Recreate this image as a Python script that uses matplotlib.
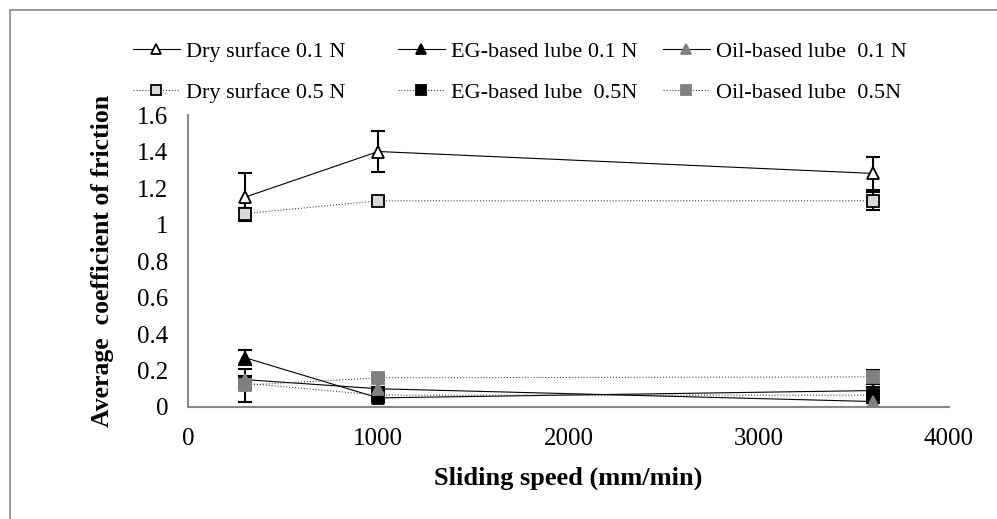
import matplotlib.pyplot as plt
from matplotlib.patches import Rectangle

# sliding speeds (mm/min)
speed = [300, 1000, 3600]

# average coefficient of friction and error bars
dry_01 = [1.15, 1.40, 1.28]
dry_01_err = [0.13, 0.11, 0.09]
dry_05 = [1.06, 1.13, 1.13]
dry_05_err = [0.03, 0.02, 0.05]
eg_01 = [0.27, 0.05, 0.09]
eg_01_err = [0.04, 0.02, 0.02]
eg_05 = [0.13, 0.065, 0.065]
eg_05_err = [0.02, 0.02, 0.02]
oil_01 = [0.15, 0.10, 0.03]
oil_01_err = [0.02, 0.01, 0.01]
oil_05 = [0.12, 0.16, 0.165]
oil_05_err = [0.09, 0.01, 0.04]

labels = ['Dry surface 0.1 N', 'Dry surface 0.5 N', 'EG-based lube 0.1 N',
          'EG-based lube  0.5N', 'Oil-based lube  0.1 N', 'Oil-based lube  0.5N']

plt.rcParams['font.family'] = ['Liberation Serif', 'DejaVu Serif']

fig = plt.figure(figsize=(9.97, 5.19), dpi=100)
fig.patches.append(Rectangle((10 / 997, -0.1), 1.1, 1 - 10 / 519 + 0.1,
                             transform=fig.transFigure, fill=False,
                             edgecolor='#888888', linewidth=1.2))
ax = fig.add_axes([0.1886, 0.2158, 0.7632, 0.5626])

grey = '#808080'
series = [
    (dry_01, dry_01_err, '^', 'white', 'black', '-'),
    (dry_05, dry_05_err, 's', '#d9d9d9', 'black', ':'),
    (eg_01, eg_01_err, '^', 'black', 'black', '-'),
    (eg_05, eg_05_err, 's', 'black', 'black', ':'),
    (oil_01, oil_01_err, '^', grey, grey, '-'),
    (oil_05, oil_05_err, 's', grey, grey, ':'),
]
handles = []
for (y, err, m, fc, ec, ls), lab in zip(series, labels):
    ax.errorbar(speed, y, yerr=err, fmt='none', ecolor='black',
                elinewidth=1.5, capsize=5, capthick=1.5, zorder=2)
    h, = ax.plot(speed, y, linestyle=ls, color='black' if ls == '-' else '#444444',
                 linewidth=0.8, marker=m, markersize=8, markerfacecolor=fc,
                 markeredgecolor=ec, markeredgewidth=1.3, label=lab, zorder=3)
    handles.append(h)

ax.set_xlim(0, 4000)
ax.set_ylim(0, 1.6)
ax.set_xticks([0, 1000, 2000, 3000, 4000])
ax.set_yticks([0, 0.2, 0.4, 0.6, 0.8, 1.0, 1.2, 1.4, 1.6])
ax.set_yticklabels(['0', '0.2', '0.4', '0.6', '0.8', '1', '1.2', '1.4', '1.6'])
ax.tick_params(length=0, labelsize=18)
ax.tick_params(axis='x', pad=15)
ax.tick_params(axis='y', pad=14)
for s in ['top', 'right']:
    ax.spines[s].set_visible(False)
for s in ['left', 'bottom']:
    ax.spines[s].set_color('#888888')
    ax.spines[s].set_linewidth(1.5)

ax.set_xlabel('Sliding speed (mm/min)', fontsize=19, fontweight='bold', labelpad=12)
ax.set_ylabel('Average  coefficient of friction', fontsize=18.5, fontweight='bold', labelpad=17)

# three legend columns, evenly spaced like the original
for i, x0 in enumerate([133 / 997, 398 / 997, 663 / 997]):
    fig.legend(handles=handles[2 * i:2 * i + 2], labels=labels[2 * i:2 * i + 2],
               frameon=False, fontsize=16, loc='upper left',
               bbox_to_anchor=(x0, 0.92), borderpad=0, borderaxespad=0,
               handlelength=2.1, labelspacing=0.9, handletextpad=0.3,
               markerscale=0.9)

plt.savefig('out.png', dpi=100)
